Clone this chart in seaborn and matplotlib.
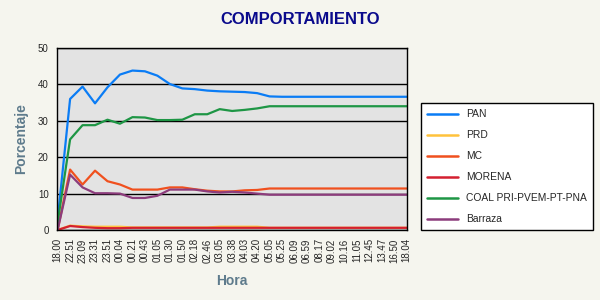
import matplotlib
matplotlib.use("Agg")
import matplotlib.pyplot as plt
import seaborn as sns
import pandas as pd

horas = ["18.00", "22.51", "23.09", "23.31", "23.51", "00.04", "00.21", "00.43",
         "01.05", "01.30", "01.50", "02.18", "02.46", "03.05", "03.38", "04.03",
         "04.20", "05.05", "05.25", "06.09", "06.59", "08.17", "09.02", "10.16",
         "11.05", "12.45", "13.47", "16.50", "18.04"]

pan = [2.8, 36.0, 39.4, 34.8, 39.2, 42.7, 43.8, 43.6, 42.4, 40.1, 38.9, 38.7, 38.3,
       38.1, 38.0, 37.9, 37.6, 36.7, 36.6, 36.6, 36.6, 36.6, 36.6, 36.6, 36.6, 36.6,
       36.6, 36.6, 36.6]
prd = [0.0, 1.2, 1.0, 0.9, 0.9, 0.9, 0.7, 0.7, 0.7, 0.7, 0.7, 0.7, 0.7, 0.9, 0.9,
       0.9, 0.9, 0.6, 0.6, 0.6, 0.6, 0.6, 0.6, 0.6, 0.6, 0.6, 0.6, 0.6, 0.6]
mc = [0.0, 16.6, 12.5, 16.3, 13.4, 12.5, 11.1, 11.1, 11.1, 11.7, 11.7, 11.2, 10.8,
      10.6, 10.6, 10.9, 11.0, 11.4, 11.4, 11.4, 11.4, 11.4, 11.4, 11.4, 11.4, 11.4,
      11.4, 11.4, 11.4]
morena = [0.0, 1.1, 0.8, 0.6, 0.5, 0.5, 0.6, 0.6, 0.6, 0.6, 0.6, 0.6, 0.6, 0.6, 0.6,
          0.6, 0.6, 0.6, 0.6, 0.6, 0.6, 0.6, 0.6, 0.6, 0.6, 0.6, 0.6, 0.6, 0.6]
coal = [2.0, 24.9, 28.8, 28.8, 30.3, 29.2, 31.0, 30.9, 30.2, 30.2, 30.3, 31.8, 31.8,
        33.2, 32.7, 33.0, 33.4, 34.0, 34.0, 34.0, 34.0, 34.0, 34.0, 34.0, 34.0, 34.0,
        34.0, 34.0, 34.0]
barraza = [0.0, 15.2, 11.7, 10.1, 10.1, 10.0, 8.8, 8.8, 9.4, 11.1, 11.1, 11.1, 10.6,
           10.3, 10.5, 10.3, 10.0, 9.7, 9.7, 9.7, 9.7, 9.7, 9.7, 9.7, 9.7, 9.7,
           9.7, 9.7, 9.7]

series = ["PAN", "PRD", "MC", "MORENA", "COAL PRI-PVEM-PT-PNA", "Barraza"]
valores = [pan, prd, mc, morena, coal, barraza]
colores = ["#0A7CF5", "#FFC23C", "#F0501E", "#D42030", "#1E9645", "#8C3C7C"]

rows = []
for name, vals in zip(series, valores):
    for h, v in zip(horas, vals):
        rows.append({"Hora": h, "Porcentaje": v, "Serie": name})
df = pd.DataFrame(rows)

sns.set_theme(style="white")
plt.rcParams['font.family'] = ['Liberation Sans', 'DejaVu Sans']

bg = "#F5F5EE"
fig = plt.figure(figsize=(6, 3), dpi=100, facecolor=bg)
ax = fig.add_axes([57/600, 1-230/300, 350/600, 182/300])
ax.set_facecolor("#E3E3E3")

sns.lineplot(data=df, x="Hora", y="Porcentaje", hue="Serie", hue_order=series,
             palette=dict(zip(series, colores)), sort=False, linewidth=1.6,
             ax=ax, legend=False)

ax.set_ylim(0, 50)
ax.set_xlim(-0.05, len(horas) - 1 + 0.02)
ax.set_yticks([0, 10, 20, 30, 40, 50])
ax.set_xticks(range(len(horas)))
ax.set_xticklabels(horas, rotation=90, fontsize=7)
ax.tick_params(axis="y", labelsize=7, length=4, width=0.8, direction="out", color="black", pad=2)
ax.tick_params(axis="x", length=4, width=0.8, direction="out", color="black", pad=2)
ax.yaxis.grid(True, color="black", linewidth=1.0)
ax.set_axisbelow(True)
for s in ax.spines.values():
    s.set_color("black")
    s.set_linewidth(1.0)

lab_color = "#5E7B8C"
ax.set_xlabel("Hora", fontsize=10, fontweight="bold", color=lab_color, labelpad=8)
ax.set_ylabel("Porcentaje", fontsize=10, fontweight="bold", color=lab_color, labelpad=7)

fig.text(0.5, 1-20/300, "COMPORTAMIENTO", ha="center", va="center",
         fontsize=12, fontweight="bold", color="#0A0A8C")

from matplotlib.lines import Line2D
handles = [Line2D([], [], color=c, linewidth=1.8) for c in colores]
leg = fig.legend(handles, series, loc="upper left",
                 bbox_to_anchor=(421/600, 1-103/300), fontsize=7.4,
                 frameon=True, fancybox=False, edgecolor="black",
                 handlelength=3.0, labelspacing=1.07, borderpad=0.6,
                 handletextpad=0.8, borderaxespad=0)
leg.get_frame().set_facecolor("white")
leg.get_frame().set_linewidth(1.0)
leg.get_frame().set_alpha(1)

fig.savefig("out.png", dpi=100, facecolor=bg)
